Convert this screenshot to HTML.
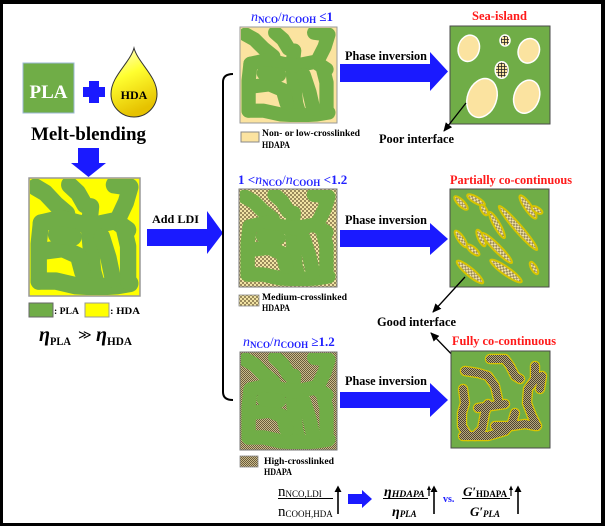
<!DOCTYPE html>
<html><head><meta charset="utf-8"><style>
html,body{margin:0;padding:0;background:#fff;}
svg{display:block;}
</style></head><body>
<svg width="605" height="526" viewBox="0 0 605 526" xmlns="http://www.w3.org/2000/svg" xmlns:xlink="http://www.w3.org/1999/xlink" font-family="'Liberation Serif', serif">
<defs>
  <linearGradient id="drop" x1="0" y1="0" x2="0.3" y2="1">
    <stop offset="0" stop-color="#fffde0"/>
    <stop offset="0.45" stop-color="#ffff30"/>
    <stop offset="1" stop-color="#e6c200"/>
  </linearGradient>
  <pattern id="med" width="4" height="4" patternUnits="userSpaceOnUse">
    <rect width="4" height="4" fill="#f1e3a4"/>
    <rect width="2" height="2" fill="#9a8a5c"/>
    <rect x="2" y="2" width="2" height="2" fill="#9a8a5c"/>
  </pattern>
  <pattern id="high" width="2" height="2" patternUnits="userSpaceOnUse">
    <rect width="2" height="2" fill="#cbbb8c"/>
    <rect width="1" height="1" fill="#6a5c3c"/>
    <rect x="1" y="1" width="1" height="1" fill="#6a5c3c"/>
  </pattern>
  <pattern id="high2" width="2" height="2" patternUnits="userSpaceOnUse">
    <rect width="2" height="2" fill="#b8a87c"/>
    <rect width="1" height="1" fill="#4e4432"/>
    <rect x="1" y="1" width="1" height="1" fill="#4e4432"/>
  </pattern>
  <pattern id="grid" width="3" height="3" patternUnits="userSpaceOnUse">
    <rect width="3" height="3" fill="#fbe3a0"/>
    <path d="M0,0.5 H3 M0.5,0 V3" stroke="#222" stroke-width="0.8"/>
  </pattern>
  <marker id="ah" markerWidth="9" markerHeight="8" refX="8" refY="4" orient="auto" markerUnits="userSpaceOnUse">
    <path d="M0,0 L9,4 L0,8 z" fill="#000"/>
  </marker>
  <g id="blob" fill="none" stroke="#70ad47" stroke-width="15" stroke-linecap="round" stroke-linejoin="round">
    <polyline points="5,7 14,12 24,22 34,30"/>
    <polyline points="36,5 44,12 50,22"/>
    <polyline points="77,5 92,7 88,20 82,32"/>
    <polyline points="56,24 54,42 56,62 58,80 62,93"/>
    <polyline points="10,38 8,56 8,72 8,88"/>
    <polyline points="10,38 28,34 44,38 58,40 78,36 90,44"/>
    <polyline points="8,88 24,88 42,92 62,93 80,92 92,90"/>
    <polyline points="86,42 90,58 90,74 90,88"/>
    <polyline points="14,62 30,60 44,66 48,80"/>
    <polyline points="66,50 72,68 76,86"/>
    <polyline points="24,48 40,50"/>
  </g>
</defs>

<rect x="0" y="0" width="605" height="526" fill="#fff"/>

<!-- PLA + HDA -->
<rect x="23" y="63" width="51" height="50" fill="#70ad47" stroke="#9bb8d6" stroke-width="1"/>
<text x="48.5" y="98" font-size="19" font-weight="bold" fill="#fff" text-anchor="middle">PLA</text>
<rect x="83" y="87" width="22" height="10" fill="#1a1aff"/>
<rect x="89" y="81" width="10" height="22" fill="#1a1aff"/>
<path d="M134,48 C138,63 157,76 157,94 A23,23 0 0 1 111,94 C111,76 130,63 134,48 Z" fill="url(#drop)" stroke="#333" stroke-width="1"/>
<text x="134" y="99" font-size="12" font-weight="bold" fill="#000" text-anchor="middle">HDA</text>

<text x="31" y="140" font-size="19" font-weight="bold" fill="#000" textLength="115" lengthAdjust="spacingAndGlyphs">Melt-blending</text>
<polygon points="78,148 99,148 99,163 106,163 88.5,177 71,163 78,163" fill="#1a1aff"/>

<rect x="29" y="178" width="111" height="118" fill="#ffff00" stroke="#999" stroke-width="1.5"/>
<svg x="30" y="179" width="109" height="116" viewBox="0 0 100 100" preserveAspectRatio="none" overflow="hidden"><use xlink:href="#blob"/></svg>

<rect x="29" y="303" width="24" height="14" fill="#70ad47" stroke="#666" stroke-width="1"/>
<text x="54" y="314" font-size="9.5" font-weight="bold" textLength="25" lengthAdjust="spacingAndGlyphs">: PLA</text>
<rect x="85" y="303" width="24" height="14" fill="#ffff00" stroke="#999" stroke-width="1"/>
<text x="110" y="314" font-size="9.5" font-weight="bold" textLength="30" lengthAdjust="spacingAndGlyphs">: HDA</text>

<text x="39" y="341" font-size="20" font-weight="bold" font-style="italic">η</text>
<text x="50" y="345" font-size="11.5" font-weight="bold" textLength="21" lengthAdjust="spacingAndGlyphs">PLA</text>
<text x="78" y="339" font-size="13">≫</text>
<text x="96" y="341" font-size="20" font-weight="bold" font-style="italic">η</text>
<text x="107" y="345" font-size="11.5" font-weight="bold" textLength="25" lengthAdjust="spacingAndGlyphs">HDA</text>

<text x="152" y="223" font-size="12" font-weight="bold" textLength="47" lengthAdjust="spacingAndGlyphs">Add LDI</text>
<polygon points="147,229 207,229 207,211 223,233 207,254 207,246 147,246" fill="#1a1aff"/>

<path d="M233,74 Q223,74 223,82 L223,392 Q223,400 233,400" fill="none" stroke="#000" stroke-width="2"/>

<!-- Row 1 -->
<text x="251" y="21" font-size="13" font-weight="bold" fill="#2020ff"><tspan font-style="italic" font-weight="normal" font-size="14">n</tspan><tspan font-size="9" dy="2">NCO</tspan><tspan dy="-2" font-weight="normal">/</tspan><tspan font-style="italic" font-weight="normal" font-size="14">n</tspan><tspan font-size="9" dy="2">COOH</tspan><tspan dy="-2"> ≤1</tspan></text>
<rect x="240" y="27" width="97" height="96" fill="#fbe3a0" stroke="#999" stroke-width="1"/>
<svg x="241" y="28" width="95" height="94" viewBox="0 0 100 100" preserveAspectRatio="none"><use xlink:href="#blob"/></svg>
<rect x="241" y="132" width="18" height="10" fill="#fbe3a0" stroke="#888" stroke-width="1"/>
<text x="262" y="136" font-size="9" font-weight="bold" textLength="98" lengthAdjust="spacingAndGlyphs">Non- or low-crosslinked</text>
<text x="262" y="148" font-size="9" font-weight="bold" textLength="28" lengthAdjust="spacingAndGlyphs">HDAPA</text>

<text x="345" y="60" font-size="13" font-weight="bold" textLength="82" lengthAdjust="spacingAndGlyphs">Phase inversion</text>
<polygon points="340,64 430,64 430,52 448,71.5 430,91 430,82 340,82" fill="#1a1aff"/>

<text x="472" y="20" font-size="13" font-weight="bold" fill="#ff1a1a" textLength="55" lengthAdjust="spacingAndGlyphs">Sea-island</text>
<rect x="450" y="26" width="100" height="98" fill="#70ad47" stroke="#4a4a4a" stroke-width="1"/>
<g stroke="#fff" stroke-width="1.5" fill="#fbe3a0">
  <ellipse cx="468.8" cy="48.3" rx="10.5" ry="13.3" transform="rotate(15 468.8 48.3)"/>
  <ellipse cx="528.8" cy="50.8" rx="10.5" ry="12.5" transform="rotate(20 528.8 50.8)"/>
  <ellipse cx="482" cy="98" rx="14.5" ry="20" transform="rotate(20 482 98)"/>
  <ellipse cx="526.7" cy="96.7" rx="12.5" ry="17" transform="rotate(20 526.7 96.7)"/>
  <ellipse cx="505" cy="40.5" rx="5" ry="5.5" fill="url(#grid)"/>
  <ellipse cx="501.7" cy="70" rx="6.5" ry="8.3" fill="url(#grid)"/>
</g>
<line x1="466" y1="103" x2="444" y2="131" stroke="#000" stroke-width="1.3" marker-end="url(#ah)"/>
<text x="379" y="143" font-size="13" font-weight="bold" textLength="75" lengthAdjust="spacingAndGlyphs">Poor interface</text>

<!-- Row 2 -->
<text x="238" y="184" font-size="13" font-weight="bold" fill="#2020ff"><tspan>1 &lt;</tspan><tspan font-style="italic" font-weight="normal" font-size="14">n</tspan><tspan font-size="9" dy="2">NCO</tspan><tspan dy="-2" font-weight="normal">/</tspan><tspan font-style="italic" font-weight="normal" font-size="14">n</tspan><tspan font-size="9" dy="2">COOH</tspan><tspan dy="-2"> &lt;1.2</tspan></text>
<rect x="239" y="189" width="98" height="98" fill="url(#med)" stroke="#777" stroke-width="1"/>
<svg x="240" y="190" width="96" height="96" viewBox="0 0 100 100" preserveAspectRatio="none"><use xlink:href="#blob"/></svg>
<rect x="239" y="295" width="20" height="11" fill="url(#med)" stroke="#888" stroke-width="0.8"/>
<text x="262" y="300" font-size="9" font-weight="bold" textLength="85" lengthAdjust="spacingAndGlyphs">Medium-crosslinked</text>
<text x="262" y="311" font-size="9" font-weight="bold" textLength="28" lengthAdjust="spacingAndGlyphs">HDAPA</text>

<text x="345" y="224" font-size="13" font-weight="bold" textLength="82" lengthAdjust="spacingAndGlyphs">Phase inversion</text>
<polygon points="340,230 430,230 430,223 448,239 430,255 430,247 340,247" fill="#1a1aff"/>

<text x="450" y="184" font-size="13" font-weight="bold" fill="#ff1a1a" textLength="122" lengthAdjust="spacingAndGlyphs">Partially co-continuous</text>
<rect x="450" y="189" width="99" height="98" fill="#70ad47" stroke="#4a4a4a" stroke-width="1"/>
<g fill="url(#med)" stroke="#d6c400" stroke-width="2">
  <ellipse cx="461" cy="203" rx="9" ry="3.2" transform="rotate(45 461 203)"/>
  <ellipse cx="476" cy="200" rx="10" ry="3.2" transform="rotate(30 476 200)"/>
  <ellipse cx="484" cy="210" rx="6" ry="2.8" transform="rotate(60 484 210)"/>
  <ellipse cx="518" cy="228" rx="29" ry="3.8" transform="rotate(49 518 228)"/>
  <ellipse cx="528" cy="207" rx="14" ry="3.6" transform="rotate(55 528 207)"/>
  <ellipse cx="537" cy="210" rx="6" ry="2.8" transform="rotate(30 537 210)"/>
  <ellipse cx="461" cy="239" rx="10" ry="3.2" transform="rotate(55 461 239)"/>
  <ellipse cx="473" cy="250" rx="8" ry="3" transform="rotate(40 473 250)"/>
  <ellipse cx="481" cy="238" rx="9" ry="3" transform="rotate(65 481 238)"/>
  <ellipse cx="497" cy="248" rx="21" ry="3.6" transform="rotate(45 497 248)"/>
  <ellipse cx="497" cy="225" rx="15" ry="3.2" transform="rotate(60 497 225)"/>
  <ellipse cx="470" cy="272" rx="17" ry="4" transform="rotate(40 470 272)"/>
  <ellipse cx="506" cy="271" rx="19" ry="4" transform="rotate(35 506 271)"/>
  <ellipse cx="534" cy="268" rx="7" ry="2.8" transform="rotate(60 534 268)"/>
</g>
<line x1="465" y1="277" x2="433" y2="312" stroke="#000" stroke-width="1.3" marker-end="url(#ah)"/>
<text x="377" y="326" font-size="13" font-weight="bold" textLength="79" lengthAdjust="spacingAndGlyphs">Good interface</text>
<line x1="462" y1="365" x2="431" y2="333" stroke="#000" stroke-width="1.3" marker-end="url(#ah)"/>

<!-- Row 3 -->
<text x="243" y="346" font-size="13" font-weight="bold" fill="#2020ff"><tspan font-style="italic" font-weight="normal" font-size="14">n</tspan><tspan font-size="9" dy="2">NCO</tspan><tspan dy="-2" font-weight="normal">/</tspan><tspan font-style="italic" font-weight="normal" font-size="14">n</tspan><tspan font-size="9" dy="2">COOH</tspan><tspan dy="-2"> ≥1.2</tspan></text>
<rect x="240" y="352" width="97" height="98" fill="url(#high)" stroke="#777" stroke-width="1"/>
<svg x="241" y="353" width="95" height="96" viewBox="0 0 100 100" preserveAspectRatio="none"><use xlink:href="#blob"/></svg>
<rect x="240" y="456" width="18" height="11" fill="url(#high)" stroke="#888" stroke-width="0.8"/>
<text x="264" y="464" font-size="9" font-weight="bold" textLength="70" lengthAdjust="spacingAndGlyphs">High-crosslinked</text>
<text x="264" y="475" font-size="9" font-weight="bold" textLength="28" lengthAdjust="spacingAndGlyphs">HDAPA</text>

<text x="345" y="385" font-size="13" font-weight="bold" textLength="82" lengthAdjust="spacingAndGlyphs">Phase inversion</text>
<polygon points="340,392 430,392 430,383 448,400 430,417 430,408 340,408" fill="#1a1aff"/>

<text x="452" y="345" font-size="13" font-weight="bold" fill="#ff1a1a" textLength="104" lengthAdjust="spacingAndGlyphs">Fully co-continuous</text>
<rect x="451" y="351" width="99" height="97" fill="#70ad47" stroke="#4a4a4a" stroke-width="1"/>
<g fill="none" stroke-linecap="round" stroke-linejoin="round">
  <g stroke="#d8c400" stroke-width="10.5">
    <polyline points="465,371 478,373 488,376 495,386 498,399"/>
    <polyline points="478,408 505,404"/>
    <polyline points="488,404 485,413 482,429 475,436"/>
    <polyline points="463,436 488,436 505,431 512,423 515,413"/>
    <polyline points="463,389 465,403 462,413 462,426 468,436"/>
    <polyline points="490,359 505,359 510,366 515,376 520,379"/>
    <polyline points="535,366 535,379 528,389 527,403 532,416 537,426"/>
    <polyline points="542,376 540,389"/>
    <polyline points="495,426 512,426 525,424 535,426"/>
  </g>
  <g stroke="url(#high2)" stroke-width="8">
    <polyline points="465,371 478,373 488,376 495,386 498,399"/>
    <polyline points="478,408 505,404"/>
    <polyline points="488,404 485,413 482,429 475,436"/>
    <polyline points="463,436 488,436 505,431 512,423 515,413"/>
    <polyline points="463,389 465,403 462,413 462,426 468,436"/>
    <polyline points="490,359 505,359 510,366 515,376 520,379"/>
    <polyline points="535,366 535,379 528,389 527,403 532,416 537,426"/>
    <polyline points="542,376 540,389"/>
    <polyline points="495,426 512,426 525,424 535,426"/>
  </g>
</g>

<!-- bottom formula -->
<text x="278" y="496" font-size="15">n<tspan font-size="9" dy="1">NCO,LDI</tspan></text>
<line x1="278" y1="498.5" x2="333" y2="498.5" stroke="#000" stroke-width="1"/>
<text x="278" y="516" font-size="15">n<tspan font-size="9" dy="1">COOH,HDA</tspan></text>
<line x1="338" y1="514" x2="338" y2="491" stroke="#000" stroke-width="1.6"/>
<path d="M334.5,492 L338,485.5 L341.5,492 Z" fill="#000"/>

<polygon points="348,494 362,494 362,490 372,499 362,508 362,504 348,504" fill="#1a1aff"/>

<text x="384" y="496" font-size="14" font-style="italic" font-weight="bold">η<tspan font-size="9" dy="1" textLength="33" lengthAdjust="spacingAndGlyphs">HDAPA</tspan></text>
<line x1="429" y1="496" x2="429" y2="489" stroke="#000" stroke-width="1.2"/>
<path d="M427,490 L429,485.5 L431,490 Z" fill="#000"/>
<line x1="383" y1="498.5" x2="428" y2="498.5" stroke="#000" stroke-width="1"/>
<text x="392" y="516" font-size="14" font-style="italic" font-weight="bold">η<tspan font-size="9" dy="1">PLA</tspan></text>
<line x1="434" y1="514" x2="434" y2="491" stroke="#000" stroke-width="1.6"/>
<path d="M430.5,492 L434,485.5 L437.5,492 Z" fill="#000"/>

<text x="443" y="502" font-size="10" font-weight="bold" fill="#2020ff">vs.</text>

<text x="463" y="496" font-size="13" font-style="italic" font-weight="bold">G′<tspan font-size="9" font-style="normal" dy="1" textLength="31" lengthAdjust="spacingAndGlyphs">HDAPA</tspan></text>
<line x1="511" y1="496" x2="511" y2="489" stroke="#000" stroke-width="1.2"/>
<path d="M509,490 L511,485.5 L513,490 Z" fill="#000"/>
<line x1="462" y1="498.5" x2="510" y2="498.5" stroke="#000" stroke-width="1"/>
<text x="470" y="516" font-size="13" font-style="italic" font-weight="bold">G′<tspan font-size="9" dy="1">PLA</tspan></text>
<line x1="518" y1="514" x2="518" y2="491" stroke="#000" stroke-width="1.6"/>
<path d="M514.5,492 L518,485.5 L521.5,492 Z" fill="#000"/>

<!-- outer frame -->
<rect x="0" y="0" width="605" height="4" fill="#000"/>
<rect x="0" y="0" width="3" height="526" fill="#000"/>
<rect x="601" y="0" width="4" height="526" fill="#000"/>
<rect x="0" y="523" width="605" height="3" fill="#000"/>
</svg>
</body></html>
